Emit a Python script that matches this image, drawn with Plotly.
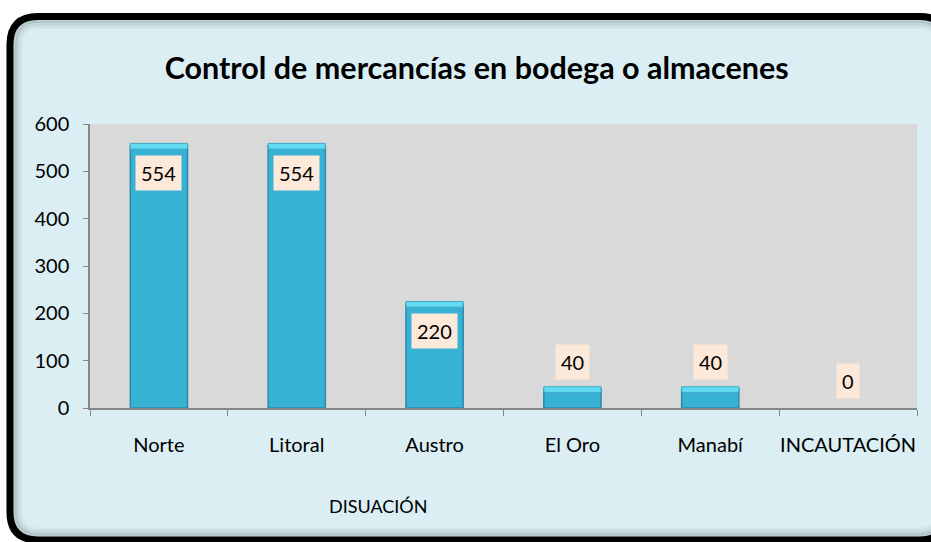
import plotly.graph_objects as go

title = "Control de mercancías en bodega o almacenes"
categories = ["Norte", "Litoral", "Austro", "El Oro", "Manabí", "INCAUTACIÓN"]
values = [554, 554, 220, 40, 40, 0]
group_label = "DISUACIÓN"
y_ticks = [0, 100, 200, 300, 400, 500, 600]

W, H = 931, 542
L, R, T, B = 90, 14, 124, 134
PW, PH = W - L - R, H - T - B

def px2paper(px, py):
    return (px - L) / PW, (H - B - py) / PH

FONT = "Lato"
fig = go.Figure()

fig.add_trace(go.Bar(
    x=categories, y=values,
    marker=dict(color="#38B2D4",
                line=dict(color="#2A8AA8", width=[1.5 if v > 0 else 0 for v in values])),
    hoverinfo="skip", showlegend=False,
))
# bevel cap highlight derived from values
cap_h = 12
fig.add_trace(go.Bar(
    x=categories,
    y=[cap_h if v > 0 else None for v in values],
    base=[v - 7 if v > 0 else None for v in values],
    marker=dict(color="#64DBF3", line=dict(color="#3FA9C6", width=1)),
    hoverinfo="skip", showlegend=False,
))

# data labels
for c, v in zip(categories, values):
    fig.add_annotation(
        x=c, y=v, xref="x", yref="y", text=str(v), showarrow=False,
        yshift=-27 if v >= 100 else 27,
        bgcolor="#FDE9D9", borderpad=5,
        font=dict(family=FONT, size=20, color="#000000"),
    )

# group label
gx, gy = px2paper(378, 506)
fig.add_annotation(x=gx, y=gy, xref="paper", yref="paper", text=group_label,
                   xanchor="center", yanchor="middle",
                   showarrow=False, font=dict(family=FONT, size=18, color="#000000"))

# chart frame (rounded rect) with inner shadow
def P(px, py):
    x, y = px2paper(px, py)
    return f"{x:.5f},{y:.5f}"

def rrect(l, t, r, b, rad):
    return (f"M {P(l, b - rad)} L {P(l, t + rad)} Q {P(l, t)} {P(l + rad, t)} "
            f"L {P(r - rad, t)} Q {P(r, t)} {P(r, t + rad)} L {P(r, b - rad)} "
            f"Q {P(r, b)} {P(r - rad, b)} L {P(l + rad, b)} Q {P(l, b)} {P(l, b - rad)} Z")

fl, ft, fr, fb, frad = 10, 16.5, 948, 540, 28
fig.add_shape(type="path", path=rrect(fl, ft, fr, fb, frad), xref="paper", yref="paper",
              layer="below", fillcolor="#DAEEF3", line=dict(width=0))
for inset, alpha in [(11, 0.04), (9, 0.07), (7, 0.12), (5, 0.2)]:
    fig.add_shape(type="path", path=rrect(fl + inset, ft + inset, fr - inset, fb - inset, frad - inset),
                  xref="paper", yref="paper", layer="below",
                  line=dict(color=f"rgba(60,70,75,{alpha})", width=3))
fig.add_shape(type="path", path=rrect(fl, ft, fr, fb, frad), xref="paper", yref="paper",
              layer="below", line=dict(color="#000000", width=7))
fig.add_shape(type="rect", xref="paper", yref="paper", x0=0, x1=1, y0=0, y1=1,
              layer="below", fillcolor="#D9D9D9", line=dict(width=0))

fig.update_layout(
    width=W, height=H,
    margin=dict(l=L, r=R, t=T, b=B, autoexpand=False),
    paper_bgcolor="#FFFFFF", plot_bgcolor="#D9D9D9",
    barmode="overlay", bargap=0.585,
    title=dict(text=f"<b>{title}</b>", x=0.512, xanchor="center", y=1 - 68 / H, yanchor="middle",
               font=dict(family=FONT, size=30.5, color="#000000")),
    font=dict(family=FONT, color="#000000"),
)
fig.update_xaxes(
    type="category", range=[-0.5, len(categories) - 0.5], automargin=False,
    showline=True, linecolor="#868686", linewidth=1.5, tickangle=0,
    ticks="outside", tickson="boundaries", ticklen=6, tickcolor="#868686",
    tickfont=dict(family=FONT, size=20, color="#000000"),
    ticklabelstandoff=18, showgrid=False, fixedrange=True,
)
fig.update_yaxes(
    range=[0, 600], tickvals=y_ticks, ticktext=[str(v) for v in y_ticks], automargin=False,
    showline=True, linecolor="#868686", linewidth=1.5,
    ticks="outside", ticklen=5, tickcolor="#868686",
    tickfont=dict(family=FONT, size=20, color="#000000"),
    ticklabelstandoff=10, showgrid=False, zeroline=False, fixedrange=True,
)

fig.write_html("out.html", config={"displayModeBar": False},
               post_script="document.body.style.margin='0';")
